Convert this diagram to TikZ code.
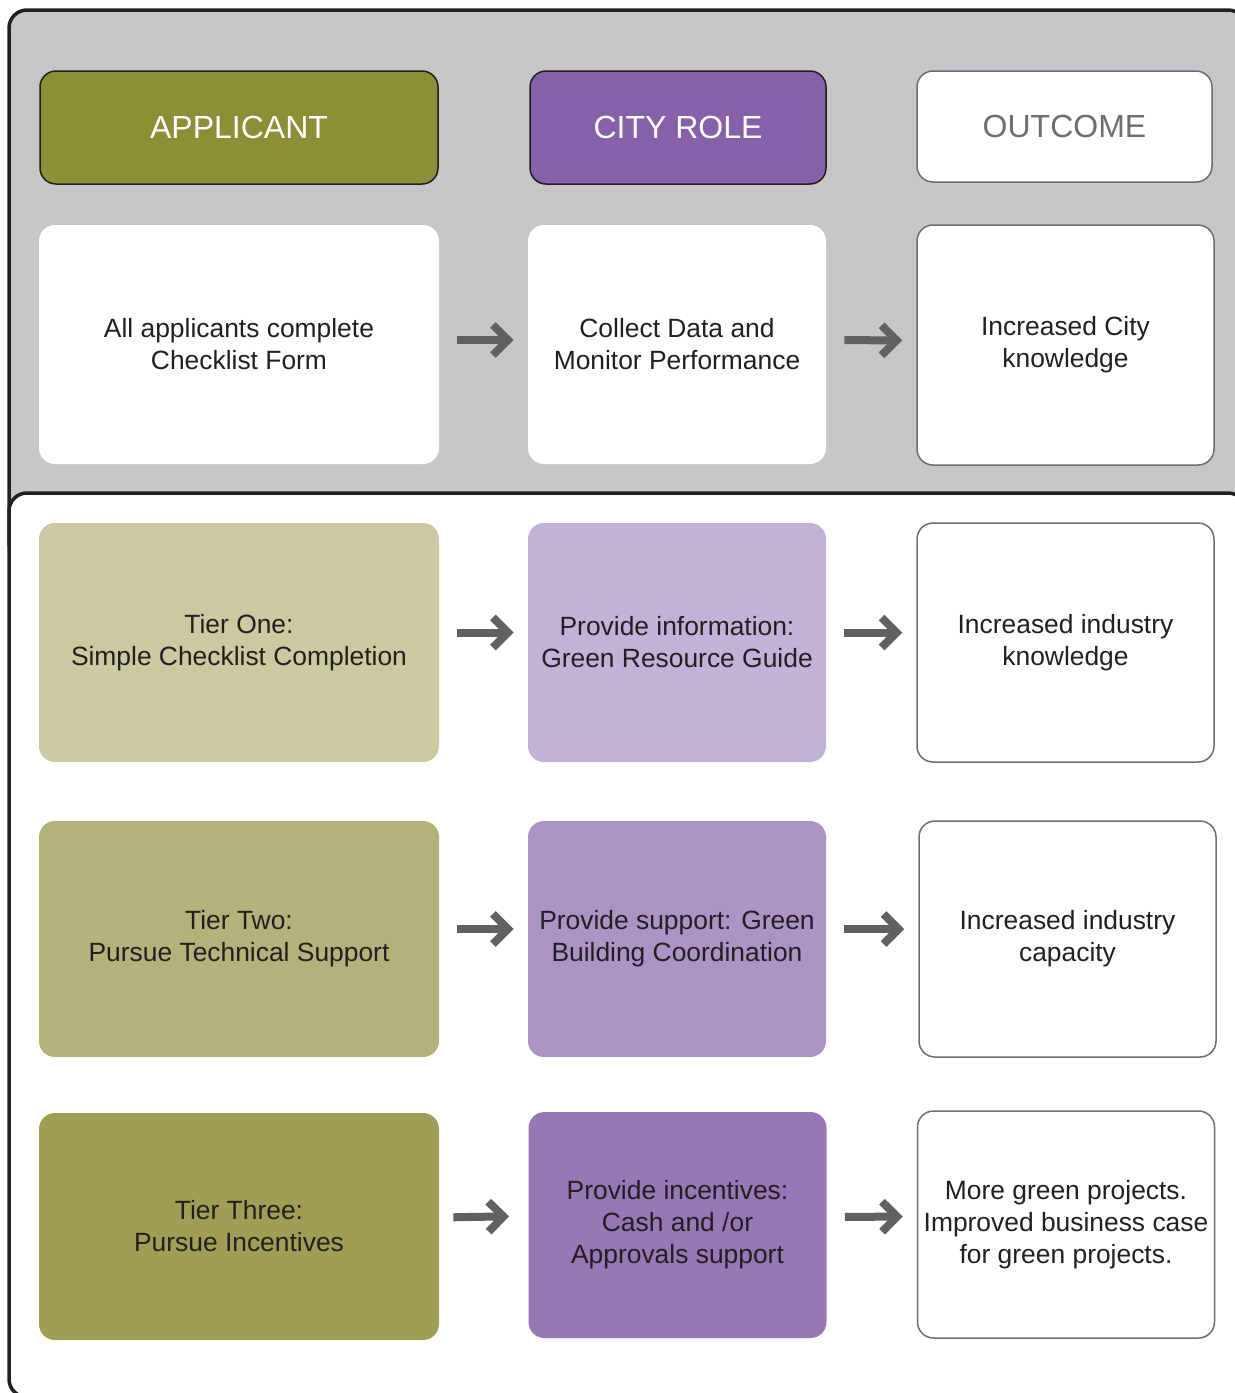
\documentclass[tikz,border=0pt]{standalone}
\usepackage{fontspec}
\setmainfont{Liberation Sans}
\usepackage{xcolor}
\usetikzlibrary{arrows.meta, positioning}
\definecolor{ink}{HTML}{231F20}
\definecolor{panelgray}{HTML}{C5C6C8}
\definecolor{edgegray}{HTML}{6D6E71}
\definecolor{arrowgray}{HTML}{616161}
\definecolor{olivehead}{HTML}{8B8F36}
\definecolor{purplehead}{HTML}{8660A8}
\definecolor{oliveone}{HTML}{CBC9A0}
\definecolor{olivetwo}{HTML}{B3B27B}
\definecolor{olivethree}{HTML}{9F9E54}
\definecolor{purpleone}{HTML}{C2B2D7}
\definecolor{purpletwo}{HTML}{AC93C6}
\definecolor{purplethree}{HTML}{9777B5}

\begin{document}
\begin{tikzpicture}[x=0.5pt, y=-0.5pt,
                every node/.style={align=center, inner sep=0pt, text=ink,
                    font=\fontsize{13.2}{16}\selectfont},
                panel/.style={draw=ink, line width=1.75pt, rounded corners=9pt},
                box/.style={rounded corners=8pt},
                head/.style={box, draw=ink, line width=0.75pt, minimum height=56.5pt,
                    font=\fontsize{16}{19}\selectfont},
                outbox/.style={box, fill=white, draw=edgegray, line width=0.75pt, minimum width=148.5pt},
                appbox/.style={box, minimum width=200pt},
                citybox/.style={box, minimum width=149pt},
                flow/.style={draw=arrowgray, line width=4pt, shorten <=9pt, shorten >=7pt,
                    -{Straight Barb[length=7.5pt, width=15pt]}}]
                \useasboundingbox (0,0) rectangle (1235,1393);
                \clip (0,0) rectangle (1235,1393);

                \draw[panel, fill=panelgray] (9,10) rectangle (1246,560);
                \draw[panel, fill=white] (9,493) rectangle (1246,1397);

                \node[head, fill=olivehead, text=white, minimum width=199pt] (happ) at (239,127.5) {APPLICANT};
                \node[head, fill=purplehead, text=white, minimum width=148pt] (hcity) at (678,127.5) {CITY ROLE};
                \node[head, fill=white, draw=edgegray, text=edgegray, minimum width=147.5pt, minimum height=55.5pt] (hout) at (1064.5,126.5) {OUTCOME};

                \node[appbox, fill=white, minimum height=119.5pt] (a1) at (239,344.5) {All applicants complete\\Checklist Form};
                \node[citybox, fill=white, minimum height=119.5pt] (c1) at (677,344.5) {Collect Data and\\Monitor Performance};
                \node[outbox, minimum height=120pt] (o1) at (1065.5,345) {Increased City\\knowledge};

                \node[appbox, fill=oliveone, minimum height=119.5pt] (a2) at (239,642.5) {Tier One:\\Simple Checklist Completion};
                \node[citybox, fill=purpleone, minimum height=119.5pt] (c2) at (677,642.5) {Provide information:\\Green Resource Guide};
                \node[outbox, minimum height=119.5pt] (o2) at (1065.5,642.5) {Increased industry\\knowledge};

                \node[appbox, fill=olivetwo, minimum height=118pt] (a3) at (239,939) {Tier Two:\\Pursue Technical Support};
                \node[citybox, fill=purpletwo, minimum height=118pt] (c3) at (677,939) {Provide support: Green\\Building Coordination};
                \node[outbox, minimum height=118pt] (o3) at (1067.5,939) {Increased industry\\capacity};

                \node[appbox, fill=olivethree, minimum height=113.5pt] (a4) at (239,1226.5) {Tier Three:\\Pursue Incentives};
                \node[citybox, fill=purplethree, minimum height=113pt] (c4) at (677.5,1225) {Provide incentives:\\Cash and /or\\Approvals support};
                \node[outbox, minimum height=113.5pt] (o4) at (1066,1224.5) {More green projects.\\Improved business case\\for green projects.};

                \draw[flow] ([yshift=2.25pt]a1.east) -- ([yshift=2.25pt]c1.west);
                \draw[flow] ([yshift=2.25pt]c1.east) -- ([yshift=2.25pt]o1.west);
                \draw[flow] ([yshift=5pt]a2.east) -- ([yshift=5pt]c2.west);
                \draw[flow] ([yshift=5pt]c2.east) -- ([yshift=5pt]o2.west);
                \draw[flow] ([yshift=5pt]a3.east) -- ([yshift=5pt]c3.west);
                \draw[flow] ([yshift=5pt]c3.east) -- ([yshift=5pt]o3.west);
                \draw[flow, shorten <=7pt, shorten >=9.5pt] ([yshift=4.5pt]a4.east) -- ([yshift=4.5pt]c4.west);
                \draw[flow] ([yshift=4pt]c4.east) -- ([yshift=4pt]o4.west);
            \end{tikzpicture}
\end{document}
